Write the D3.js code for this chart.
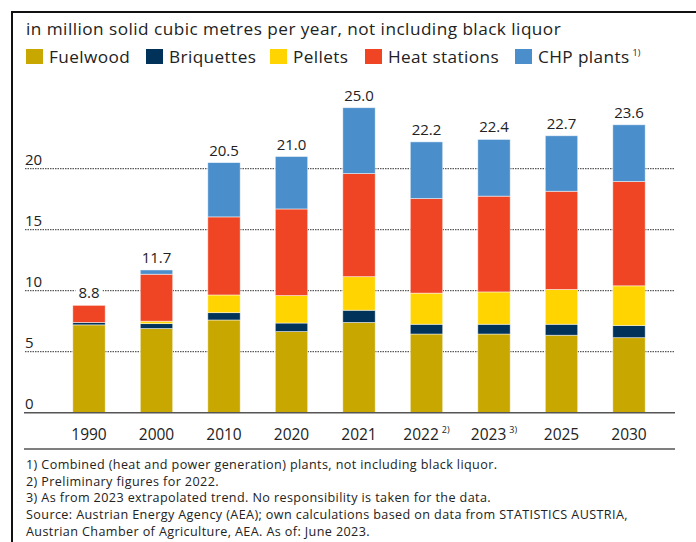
<!DOCTYPE html>
<html>
<head>
<meta charset="utf-8">
<script src="https://cdn.jsdelivr.net/npm/d3@7/dist/d3.min.js"></script>
<style>
  html, body { margin: 0; padding: 0; background: #fff; }
  svg { display: block; font-family: "Open Sans", Lato, sans-serif; }
</style>
</head>
<body>
<svg id="chart" width="696" height="542"></svg>
<script>
// Wood fuel consumption, million solid cubic metres per year
const years = ["1990", "2000", "2010", "2020", "2021", "2022", "2023", "2025", "2030"];
const yearNotes = ["", "", "", "", "", "2)", "3)", "", ""];
const fuelwood    = [7.2, 6.9, 7.6, 6.65, 7.4, 6.45, 6.45, 6.35, 6.15];
const briquettes  = [0.2, 0.4, 0.6, 0.7, 1.0, 0.8, 0.8, 0.9, 1.0];
const pellets     = [0.0, 0.2, 1.45, 2.25, 2.75, 2.55, 2.65, 2.85, 3.25];
const heatStations= [1.4, 3.85, 6.4, 7.1, 8.45, 7.75, 7.85, 8.05, 8.55];
const chpPlants   = [0.0, 0.35, 4.45, 4.3, 5.4, 4.65, 4.65, 4.55, 4.65];
const totals      = [8.8, 11.7, 20.5, 21.0, 25.0, 22.2, 22.4, 22.7, 23.6];
const seriesNames = ["Fuelwood", "Briquettes", "Pellets", "Heat stations", "CHP plants"];
const seriesColors = ["#c8a700", "#00325a", "#ffd400", "#ef4524", "#4a8fcc"];
const yTicks = [0, 5, 10, 15, 20];
const footnotes = [
  "1) Combined (heat and power generation) plants, not including black liquor.",
  "2) Preliminary figures for 2022.",
  "3) As from 2023 extrapolated trend. No responsibility is taken for the data.",
  "Source: Austrian Energy Agency (AEA); own calculations based on data from STATISTICS AUSTRIA,",
  "Austrian Chamber of Agriculture, AEA. As of: June 2023."
];

const seriesValues = [fuelwood, briquettes, pellets, heatStations, chpPlants];
const keys = seriesNames;
const rows = years.map((y, i) => {
  const r = { year: y };
  keys.forEach((k, j) => { r[k] = seriesValues[j][i]; });
  return r;
});
const stacked = d3.stack().keys(keys)(rows);

const svg = d3.select("#chart");
const textColor = "#222";

// frame
svg.append("line").attr("x1", 11).attr("x2", 696).attr("y1", 12).attr("y2", 12)
  .attr("stroke", "#111").attr("stroke-width", 2);
svg.append("line").attr("x1", 12).attr("x2", 12).attr("y1", 11).attr("y2", 542)
  .attr("stroke", "#111").attr("stroke-width", 2);

// title
svg.append("text").attr("x", 26).attr("y", 35)
  .attr("font-size", 17.2).attr("letter-spacing", 0.46).attr("fill", textColor)
  .text("in million solid cubic metres per year, not including black liquor");

// legend
const legendX = [26, 146, 270, 365, 515];
const legend = svg.append("g");
keys.forEach((k, i) => {
  const g = legend.append("g").attr("transform", `translate(${legendX[i]},49)`);
  g.append("rect").attr("width", 17).attr("height", 15).attr("fill", seriesColors[i]);
  const t = g.append("text").attr("x", 23).attr("y", 14)
    .attr("font-size", 17.2).attr("letter-spacing", 0.4).attr("fill", textColor).text(k);
  if (i === 4) {
    t.append("tspan").attr("dx", 3).attr("dy", -7).attr("font-size", 9)
      .attr("letter-spacing", 0).text("1)");
  }
});

// scales
const x = d3.scaleBand().domain(years).range([55.25, 662.75])
  .paddingInner(0.52).paddingOuter(0.26);
const y = d3.scaleLinear().domain([0, 20]).range([412.7, 168.7]);

// gridlines and tick labels
const grid = svg.append("g");
yTicks.filter(t => t > 0).forEach(t => {
  grid.append("line").attr("x1", 25).attr("x2", 675)
    .attr("y1", y(t)).attr("y2", y(t))
    .attr("stroke", "#333").attr("stroke-width", 1).attr("stroke-dasharray", "1.5,1");
});
yTicks.forEach(t => {
  grid.append("text").attr("x", 25).attr("y", y(t) - 4)
    .attr("font-size", 15).attr("fill", textColor).text(t);
});

// stacked bars
svg.append("g").selectAll("g").data(stacked).join("g")
  .attr("fill", (d, i) => seriesColors[i])
  .selectAll("rect").data(d => d.filter(s => s[1] - s[0] > 0)).join("rect")
  .attr("x", d => x(d.data.year))
  .attr("width", x.bandwidth())
  .attr("y", d => y(d[1]))
  .attr("height", d => y(d[0]) - y(d[1]))
  .attr("stroke", "rgba(255,255,255,0.6)").attr("stroke-width", 0.8);

// baseline and lower rule
svg.append("line").attr("x1", 24).attr("x2", 675).attr("y1", y(0)).attr("y2", y(0))
  .attr("stroke", "#555").attr("stroke-width", 1.5);
svg.append("line").attr("x1", 24).attr("x2", 675).attr("y1", 449).attr("y2", 449)
  .attr("stroke", "#555").attr("stroke-width", 1.5);

// total labels with white backing
const labels = svg.append("g");
years.forEach((yr, i) => {
  const cx = x(yr) + x.bandwidth() / 2;
  const by = y(totals[i]) - 7;
  const t = labels.append("text").attr("x", cx).attr("y", by)
    .attr("text-anchor", "middle").attr("font-size", 15).attr("fill", textColor)
    .text(totals[i].toFixed(1));
  const bb = t.node().getBBox();
  labels.insert("rect", "text").attr("x", bb.x - 3).attr("y", bb.y)
    .attr("width", bb.width + 6).attr("height", bb.height).attr("fill", "#fff");
});
labels.selectAll("text").raise();

// x-axis labels
const xl = svg.append("g");
years.forEach((yr, i) => {
  const cx = x(yr) + x.bandwidth() / 2;
  const t = xl.append("text").attr("x", cx).attr("y", 440)
    .attr("text-anchor", "middle").attr("font-size", 15.5).attr("fill", textColor)
    .text(yr);
  if (yearNotes[i]) {
    t.append("tspan").attr("dx", 3).attr("dy", -7).attr("font-size", 9).text(yearNotes[i]);
  }
});

// footnotes
footnotes.forEach((f, i) => {
  svg.append("text").attr("x", 26).attr("y", 469 + i * 16.7)
    .attr("font-size", 12.6).attr("letter-spacing", 0.39).attr("fill", textColor).text(f);
});
</script>
</body>
</html>
